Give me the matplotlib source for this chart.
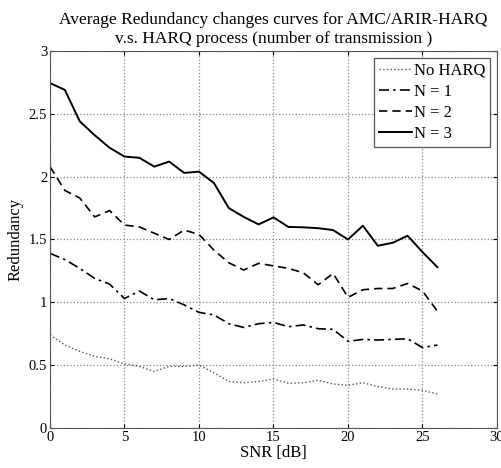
import matplotlib
matplotlib.use("Agg")
import matplotlib.pyplot as plt
import numpy as np

plt.rcParams['font.family'] = ['Liberation Serif', 'DejaVu Serif']

snr = list(range(0, 27))
no_harq = [0.74, 0.66, 0.61, 0.57, 0.55, 0.51, 0.49, 0.45, 0.49, 0.49, 0.50, 0.44, 0.37, 0.36,
           0.37, 0.39, 0.355, 0.36, 0.38, 0.35, 0.34, 0.36, 0.33, 0.31, 0.31, 0.30, 0.27]
n1 = [1.39, 1.34, 1.27, 1.19, 1.145, 1.03, 1.09, 1.02, 1.03, 0.98, 0.92, 0.90, 0.83, 0.80,
      0.83, 0.84, 0.806, 0.82, 0.79, 0.785, 0.69, 0.705, 0.70, 0.705, 0.71, 0.64, 0.66]
n2 = [2.08, 1.89, 1.83, 1.68, 1.73, 1.615, 1.60, 1.55, 1.50, 1.575, 1.54, 1.416, 1.315, 1.257,
      1.31, 1.29, 1.27, 1.235, 1.14, 1.23, 1.04, 1.10, 1.11, 1.11, 1.15, 1.09, 0.93]
n3 = [2.745, 2.69, 2.44, 2.33, 2.23, 2.16, 2.15, 2.08, 2.12, 2.03, 2.04, 1.95, 1.75, 1.68,
      1.62, 1.676, 1.60, 1.597, 1.59, 1.575, 1.50, 1.61, 1.45, 1.474, 1.53, 1.40, 1.28]
labels = ['No HARQ', 'N = 1', 'N = 2', 'N = 3']

fig = plt.figure(figsize=(5.01, 4.68), dpi=100)
ax = fig.add_axes([0.0998, 0.0855, 0.8922, 0.8055])

ax.plot(snr, no_harq, linestyle=':', color='#555555', lw=1.0, label=labels[0])
ax.plot(snr, n1, linestyle=(0, (6, 2.5, 1.5, 2.5)), color='black', lw=1.2, label=labels[1])
ax.plot(snr, n2, linestyle=(0, (5, 3)), color='black', lw=1.2, label=labels[2])
ax.plot(snr, n3, linestyle='-', color='black', lw=1.4, label=labels[3])

ax.set_xlim(0, 30)
ax.set_ylim(0, 3)
ax.set_xticks([0, 5, 10, 15, 20, 25, 30])
ax.set_yticks([0, 0.5, 1, 1.5, 2, 2.5, 3])
ax.set_yticklabels(['0', '0.5', '1', '1.5', '2', '2.5', '3'])
ax.grid(True, linestyle=':', color='#888888', lw=0.9)
ax.tick_params(direction='in', top=True, right=True, labelsize=10.5, length=3, pad=2)
for s in ax.spines.values():
    s.set_color('#555555')
ax.set_xlabel('SNR [dB]', fontsize=12, labelpad=1)
ax.set_ylabel('Redundancy', fontsize=12, labelpad=4)
ax.set_title('Average Redundancy changes curves for AMC/ARIR-HARQ\nv.s. HARQ process (number of transmission )',
             fontsize=12.5, pad=6, linespacing=1.2)

leg = ax.legend(loc='upper right', fontsize=12, fancybox=False, framealpha=1,
                edgecolor='#555555', handlelength=2.0, handletextpad=0.1,
                borderaxespad=0.4, labelspacing=0.3, borderpad=0.3)
leg.get_frame().set_linewidth(0.9)

fig.savefig('out.png', dpi=100)
